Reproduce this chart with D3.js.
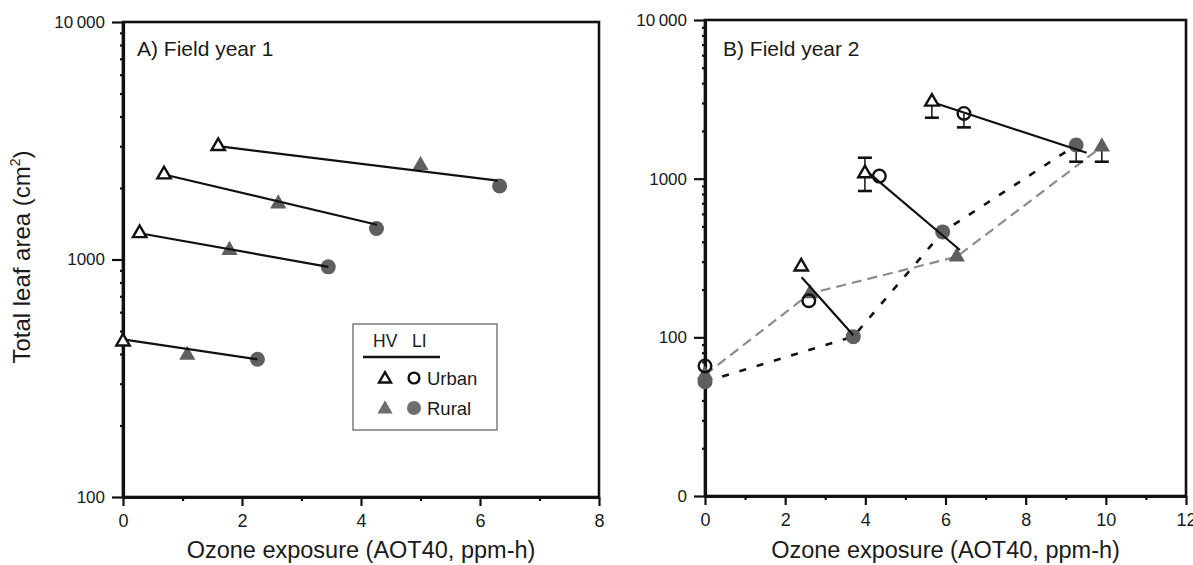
<!DOCTYPE html>
<html>
<head>
<meta charset="utf-8">
<script src="https://d3js.org/d3.v7.min.js"></script>
<style>
  body { margin: 0; background: #fff; }
  text { font-family: "Liberation Sans", Arial, sans-serif; fill: #1a1a1a; }
</style>
</head>
<body>
<div id="chart"></div>
<script>
// ---- data ----
// x = ozone exposure (AOT40, ppm-h), y = total leaf area (cm2)
// HV = triangles, LI = circles, Urban = open, Rural = filled

// panel A, field year 1
var aUrbanHV = [[1.60, 3000], [0.69, 2280], [0.28, 1290], [0.00, 451]];
var aRuralHV = [[5.00, 2490], [2.61, 1718], [1.79, 1094], [1.08, 396]];
var aRuralLI = [[6.33, 2040], [4.26, 1350], [3.45, 931], [2.26, 380]];
var aFits = [
  [[1.60, 3000], [6.30, 2150]],
  [[0.69, 2280], [4.27, 1400]],
  [[0.28, 1290], [3.45, 931]],
  [[0.00, 461], [2.26, 380]]
];

// panel B, field year 2
var bUrbanHV = [[2.40, 279], [3.99, 1079], [5.66, 3052]];
var bUrbanLI = [[0.00, 66], [2.59, 170], [4.35, 1038], [6.46, 2577]];
var bRuralHV = [[0.00, 58], [2.62, 189], [6.28, 322], [9.90, 1589]];
var bRuralLI = [[0.00, 52.5], [3.70, 101], [5.93, 462], [9.26, 1629]];
var bFits = [
  [[2.41, 239], [3.70, 103]],
  [[4.10, 1079], [6.36, 355]],
  [[5.66, 3040], [9.52, 1456]]
];
// error bars: x, marker value, bar end
var bErrors = [
  [5.66, 3052, 2421], [6.46, 2577, 2105], [9.26, 1629, 1279],
  [9.90, 1589, 1279], [3.99, 1079, 1355], [3.99, 1079, 836]
];

// ticks
var aXTicks = [0, 2, 4, 6, 8];
var aXMinor = [1, 3, 5, 7];
var aYTicks = [100, 1000, 10000];
var aYLabels = ["100", "1000", "10\u2009000"];
var bXTicks = [0, 2, 4, 6, 8, 10, 12];
var bXMinor = [1, 3, 5, 7, 9, 11];
var bYTicks = [10, 100, 1000, 10000];
var bYLabels = ["0", "100", "1000", "10\u2009000"];

var legendCols = ["HV", "LI"];
var legendRows = ["Urban", "Rural"];

var xTitle = "Ozone exposure (AOT40, ppm-h)";

var fillGray = "#5f5f5f";

var svg = d3.select("#chart").append("svg")
    .attr("width", 1193)
    .attr("height", 565);

var triOpen = d3.symbol().type(d3.symbolTriangle).size(78);
var triFill = d3.symbol().type(d3.symbolTriangle).size(115);

function panel(p) {
  var x = d3.scaleLinear().domain(p.xDomain).range([p.left, p.right]);
  var y = d3.scaleLog().domain(p.yDomain).range([p.bottom, p.top]);

  // frame (top and right)
  svg.append("rect")
      .attr("x", p.left).attr("y", p.top)
      .attr("width", p.right - p.left).attr("height", p.bottom - p.top)
      .attr("fill", "none").attr("stroke", "#111").attr("stroke-width", 2.6);

  // minor ticks
  var yMinor = y.ticks().filter(function (d) {
    return Math.abs(Math.log10(d) - Math.round(Math.log10(d))) > 1e-6;
  });
  var gMinY = svg.append("g").attr("transform", "translate(" + p.left + ",0)")
      .call(d3.axisLeft(y).tickValues(yMinor).tickSize(3).tickSizeOuter(0).tickFormat(""));
  gMinY.select(".domain").remove();
  gMinY.selectAll("line").attr("stroke", "#111").attr("stroke-width", 2.2);

  var gMinX = svg.append("g").attr("transform", "translate(0," + p.bottom + ")")
      .call(d3.axisBottom(x).tickValues(p.xMinor).tickSize(4).tickSizeOuter(0).tickFormat(""));
  gMinX.select(".domain").remove();
  gMinX.selectAll("line").attr("stroke", "#111").attr("stroke-width", 2.2);

  // major axes
  var gy = svg.append("g").attr("transform", "translate(" + p.left + ",0)")
      .call(d3.axisLeft(y).tickValues(p.yTicks).tickSize(11).tickSizeOuter(0).tickPadding(7)
        .tickFormat(function (d, i) { return p.yLabels[i]; }));
  var gx = svg.append("g").attr("transform", "translate(0," + p.bottom + ")")
      .call(d3.axisBottom(x).tickValues(p.xTicks).tickSize(9).tickSizeOuter(0).tickPadding(8)
        .tickFormat(d3.format("d")));
  [gx, gy].forEach(function (g) {
    g.select(".domain").attr("stroke", "#111").attr("stroke-width", 3.2);
    g.selectAll(".tick line").attr("stroke", "#111").attr("stroke-width", 2.2);
    g.selectAll(".tick text").attr("fill", "#222")
        .style("font-family", "Liberation Sans, Arial, sans-serif");
  });
  gy.selectAll(".tick text").attr("font-size", 17);
  gx.selectAll(".tick text").attr("font-size", 18);

  // x title
  svg.append("text")
      .attr("x", (p.left + p.right) / 2).attr("y", 558)
      .attr("text-anchor", "middle").attr("font-size", 23.5)
      .text(xTitle);

  // panel label
  svg.append("text")
      .attr("x", p.left + p.labelDx).attr("y", 56)
      .attr("font-size", 21)
      .text(p.label);

  return { x: x, y: y };
}

var A = panel({
  left: 123, right: 599, top: 22, bottom: 497,
  xDomain: [0, 8], yDomain: [100, 10000],
  xTicks: aXTicks, xMinor: aXMinor, yTicks: aYTicks, yLabels: aYLabels,
  label: "A) Field year 1", labelDx: 14
});

var B = panel({
  left: 705, right: 1186, top: 20, bottom: 496,
  xDomain: [0, 12], yDomain: [10, 10000],
  xTicks: bXTicks, xMinor: bXMinor, yTicks: bYTicks, yLabels: bYLabels,
  label: "B) Field year 2", labelDx: 18
});

// y title
var yt = svg.append("text")
    .attr("transform", "translate(30,257) rotate(-90)")
    .attr("text-anchor", "middle")
    .attr("font-size", 24);
yt.append("tspan").text("Total leaf area (cm");
yt.append("tspan").attr("font-size", 14).attr("dy", -10).text("2");
yt.append("tspan").attr("dy", 10).text(")");

function pathLine(s) {
  return d3.line().x(function (d) { return s.x(d[0]); }).y(function (d) { return s.y(d[1]); });
}

// dashed connecting lines (panel B)
svg.append("path").datum(bRuralHV)
    .attr("d", pathLine(B))
    .attr("fill", "none").attr("stroke", "#8c8c8c").attr("stroke-width", 2.2)
    .attr("stroke-dasharray", "10,6");
svg.append("path").datum(bRuralLI)
    .attr("d", pathLine(B))
    .attr("fill", "none").attr("stroke", "#111").attr("stroke-width", 2.6)
    .attr("stroke-dasharray", "7,11");

// error bars (panel B)
bErrors.forEach(function (e) {
  svg.append("line")
      .attr("x1", B.x(e[0])).attr("x2", B.x(e[0]))
      .attr("y1", B.y(e[1])).attr("y2", B.y(e[2]))
      .attr("stroke", "#111").attr("stroke-width", 1.5);
  svg.append("line")
      .attr("x1", B.x(e[0]) - 7).attr("x2", B.x(e[0]) + 7)
      .attr("y1", B.y(e[2])).attr("y2", B.y(e[2]))
      .attr("stroke", "#111").attr("stroke-width", 2.6);
});

function filledTri(data, s) {
  svg.append("g").selectAll("path").data(data).enter().append("path")
      .attr("transform", function (d) { return "translate(" + s.x(d[0]) + "," + s.y(d[1]) + ")"; })
      .attr("d", triFill)
      .attr("fill", fillGray);
}
function filledCircle(data, s) {
  svg.append("g").selectAll("circle").data(data).enter().append("circle")
      .attr("cx", function (d) { return s.x(d[0]); })
      .attr("cy", function (d) { return s.y(d[1]); })
      .attr("r", 7.5)
      .attr("fill", fillGray);
}
function fits(data, s) {
  svg.append("g").selectAll("path").data(data).enter().append("path")
      .attr("d", pathLine(s))
      .attr("fill", "none").attr("stroke", "#111").attr("stroke-width", 2.2);
}
function openTri(data, s) {
  svg.append("g").selectAll("path").data(data).enter().append("path")
      .attr("transform", function (d) { return "translate(" + s.x(d[0]) + "," + s.y(d[1]) + ")"; })
      .attr("d", triOpen)
      .attr("fill", "#fff").attr("stroke", "#111").attr("stroke-width", 2.4)
      .attr("stroke-linejoin", "miter");
}
function openCircle(data, s) {
  svg.append("g").selectAll("circle").data(data).enter().append("circle")
      .attr("cx", function (d) { return s.x(d[0]); })
      .attr("cy", function (d) { return s.y(d[1]); })
      .attr("r", 6.3)
      .attr("fill", "none").attr("stroke", "#111").attr("stroke-width", 2.4);
}

// panel A marks
filledTri(aRuralHV, A);
filledCircle(aRuralLI, A);
fits(aFits, A);
openTri(aUrbanHV, A);

// panel B marks
filledTri(bRuralHV, B);
filledCircle(bRuralLI, B);
fits(bFits, B);
openTri(bUrbanHV, B);
openCircle(bUrbanLI, B);

// legend
var lg = svg.append("g").attr("transform", "translate(353,324)");
lg.append("rect")
    .attr("width", 144).attr("height", 106)
    .attr("fill", "#fff").attr("stroke", "#666").attr("stroke-width", 1.3);
lg.selectAll("text.col").data(legendCols).enter().append("text")
    .attr("class", "col")
    .attr("x", function (d, i) { return i ? 59 : 20; })
    .attr("y", 23)
    .attr("font-size", 17.5)
    .text(function (d) { return d; });
lg.append("line")
    .attr("x1", 10).attr("x2", 87).attr("y1", 33).attr("y2", 33)
    .attr("stroke", "#111").attr("stroke-width", 2.4);
lg.selectAll("text.row").data(legendRows).enter().append("text")
    .attr("class", "row")
    .attr("x", 74)
    .attr("y", function (d, i) { return 61 + i * 30; })
    .attr("font-size", 18.5)
    .text(function (d) { return d; });
lg.append("path").attr("transform", "translate(32,55)").attr("d", d3.symbol().type(d3.symbolTriangle).size(62))
    .attr("fill", "#fff").attr("stroke", "#111").attr("stroke-width", 2.4);
lg.append("circle").attr("cx", 61).attr("cy", 54).attr("r", 5.4)
    .attr("fill", "none").attr("stroke", "#111").attr("stroke-width", 2.4);
lg.append("path").attr("transform", "translate(32,85)").attr("d", d3.symbol().type(d3.symbolTriangle).size(100))
    .attr("fill", "#6e6e6e");
lg.append("circle").attr("cx", 61).attr("cy", 84).attr("r", 7)
    .attr("fill", "#6e6e6e");
</script>
</body>
</html>
